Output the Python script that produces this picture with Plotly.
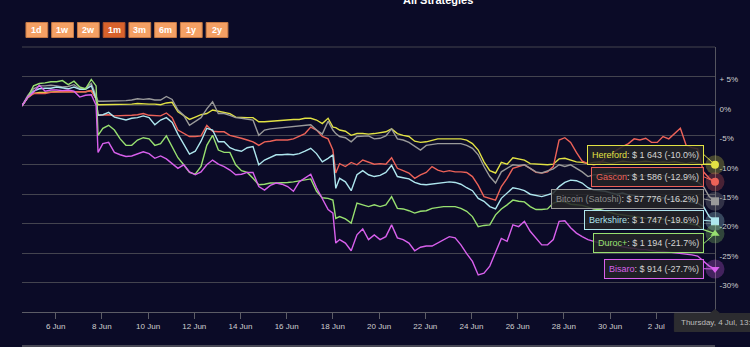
import plotly.graph_objects as go
import pandas as pd

# ---------------- data ----------------
start = pd.Timestamp('2024-06-04 13:00')
times = list(pd.date_range(start, periods=121, freq='6h'))
times[13:14] = [pd.Timestamp('2024-06-07 18:00'), pd.Timestamp('2024-06-07 20:00')]
times[55:56] = [pd.Timestamp('2024-06-18 00:00'), pd.Timestamp('2024-06-18 03:00')]

hereford = [0.0, 1.4, 2.1, 2.3, 2.3, 2.4, 2.4, 2.4, 2.4, 2.4, 2.4, 2.4, 2.6,
            1.2, 0.2,
            0.2, 0.3, 0.2, 0.2, 0.3, 0.3, 0.4, 0.3, 0.3, 0.3, 0.2, 0.5, 0.6, -1.0, -1.6, -2.3, -1.9,
            -1.5, -1.3, -0.7, -0.9, -1.1, -1.3, -1.9, -2.0, -2.0, -2.0, -2.7, -2.7, -2.6, -2.5, -2.4, -2.3, -2.3, -2.3, -2.1, -2.1, -2.4, -3.0, -2.1,
            -3.6, -3.7,
            -4.1, -4.3, -5.0, -4.7, -4.7, -4.8,
            -4.7, -4.6, -4.4, -3.9, -4.7, -5.0, -5.2, -6.0, -6.2, -6.1, -5.8, -5.6, -5.6, -5.6, -5.6, -5.6, -5.8, -6.4, -7.5, -9.5, -11.0, -11.4, -9.6, -9.9, -8.8, -9.0, -9.2, -9.8, -9.9, -10.0,
            -10.0, -9.9, -9.0, -8.9, -9.2, -9.5, -9.6, -9.8, -9.6, -9.5, -9.6, -9.8, -9.6, -9.4, -9.5, -9.6, -9.5, -9.4, -9.5, -9.6, -9.5, -9.6, -9.5, -9.6, -9.8, -9.6, -9.8, -9.9, -9.9, -10.0]

gascon = [0.0, 1.4, 2.1, 2.1, 2.1, 2.3, 2.4, 2.4, 2.4, 2.4, 2.5, 2.4, 2.6,
          1.2, -1.6,
          -1.6, -1.5, -1.7, -1.7, -1.7, -1.6, -1.5, -1.3, -1.6, -1.7, -1.7, -1.2, -2.0, -4.1, -4.7, -5.2, -5.2,
          -5.1, -3.3, -4.3, -4.4, -4.4, -5.0, -5.2, -5.5, -5.8, -6.1, -6.7, -6.1, -6.0, -5.8, -5.8, -5.8, -5.6, -5.2, -4.7, -3.6, -4.1, -5.2, -5.6,
          -7.5, -11.4,
          -9.8, -10.3, -9.6, -10.0, -9.2, -9.6,
          -9.9, -9.8, -9.9, -8.8, -10.6, -11.0, -11.4, -12.3, -11.7, -11.3, -10.3, -10.9, -11.2, -11.0, -11.2, -11.2, -11.3, -12.0, -13.5, -15.4, -15.7, -16.0, -13.7, -12.3, -10.6, -10.3, -10.0, -10.6, -11.3, -11.4,
          -11.2, -10.3, -5.8, -5.4, -6.2, -7.9, -9.4, -9.8, -10.0, -9.8, -8.9, -8.3, -7.5, -6.9, -6.4, -5.6, -5.8, -5.5, -6.2, -6.2, -5.2, -5.6, -4.7, -3.8, -6.7, -7.1, -7.3, -11.2, -12.3, -12.9]

bitcoin = [0.0, 1.8, 2.9, 3.4, 3.4, 3.5, 3.4, 3.2, 3.3, 3.6, 2.9, 3.0, 3.8,
           1.5, 0.8,
           0.8, 0.8, 0.9, 0.8, 0.9, 1.0, 1.2, 1.1, 1.2, 1.0, 1.0, 1.6, 1.1, -0.7, -1.6, -3.3, -2.6,
           -2.0, -0.5, 0.7, -1.3, -1.3, -1.6, -2.0, -2.1, -2.3, -2.4, -5.0, -4.1, -3.9, -3.8, -3.7, -3.6, -3.6, -3.4, -3.3, -3.2, -4.1, -4.8, -2.6,
           -4.1, -4.7,
           -5.2, -5.4, -6.1, -5.2, -5.1, -5.1,
           -5.6, -5.5, -5.1, -3.9, -5.6, -5.8, -6.2, -6.9, -7.5, -6.7, -6.5, -6.4, -6.4, -6.4, -6.4, -6.4, -6.7, -7.2, -8.3, -10.3, -12.0, -13.1, -11.2, -10.6, -10.0, -10.1, -10.0, -10.6, -11.2, -11.4,
           -11.0, -10.7, -10.0, -10.3, -10.0, -10.6, -11.2, -12.0, -11.7, -11.7, -11.6, -11.4, -11.7, -11.8, -11.7, -11.8, -12.0, -11.8, -11.7, -12.0, -11.8, -12.0, -12.2, -12.3, -12.2, -12.6, -12.9, -13.7, -15.4, -16.2]

berkshire = [0.0, 1.5, 2.5, 2.9, 3.0, 3.0, 3.2, 3.0, 2.9, 3.2, 2.8, 2.8, 3.4,
             1.2, -1.6,
             -1.5, -1.1, -1.9, -2.1, -2.4, -2.1, -2.0, -1.7, -2.0, -3.2, -2.4, -2.0, -2.8, -4.8, -6.4, -8.2, -7.7,
             -6.0, -3.8, -4.1, -6.1, -6.1, -7.1, -7.5, -7.7, -7.1, -6.9, -10.0, -9.2, -8.8, -8.3, -8.3, -8.2, -8.3, -8.1, -7.7, -7.2, -8.1, -9.5, -8.9,
             -8.3, -14.0,
             -12.3, -12.9, -14.4, -11.7, -11.0, -11.7,
             -12.0, -11.8, -11.3, -10.1, -12.0, -12.2, -12.4, -13.0, -13.3, -13.4, -13.3, -13.1, -13.0, -12.9, -13.0, -13.3, -13.9, -14.4, -15.7, -16.2, -17.1, -17.5, -15.7, -14.8, -13.9, -14.1, -14.4, -15.0, -15.2, -15.4,
             -15.1, -14.8, -13.7, -13.0, -12.6, -12.7, -13.1, -13.9, -14.3, -14.4, -14.5, -14.8, -15.0, -14.8, -15.1, -15.2, -15.4, -15.4, -15.6, -15.7, -15.6, -15.8, -16.0, -16.1, -16.2, -16.3, -16.5, -17.1, -18.8, -19.6]

duroc = [0.0, 1.5, 3.4, 3.8, 3.9, 4.1, 4.1, 4.3, 3.6, 4.2, 3.2, 2.9, 4.5,
         3.4, -5.0,
         -3.8, -3.3, -4.1, -5.6, -6.7, -6.7, -5.8, -5.4, -5.6, -6.7, -6.4, -5.1, -6.9, -8.8, -10.0, -11.3, -11.6,
         -10.3, -6.7, -5.0, -7.5, -7.9, -7.9, -10.0, -11.0, -11.3, -12.3, -13.4, -13.3, -13.1, -13.1, -13.1, -13.0, -12.9, -12.7, -12.6, -12.4, -14.5, -15.6, -15.7,
         -16.0, -19.1,
         -18.8, -19.2, -19.9, -16.5, -16.8, -17.1,
         -16.8, -17.1, -16.8, -15.4, -17.4, -17.5, -17.8, -18.2, -17.9, -17.8, -17.4, -17.2, -17.1, -17.1, -17.1, -17.4, -17.9, -18.8, -20.5, -20.3, -20.2, -18.5, -17.5, -16.8, -16.0, -16.2, -16.3, -17.1, -17.6, -17.6,
         -17.5, -16.5, -16.2, -16.3, -16.7, -16.8, -16.9, -17.2, -17.5, -17.6, -17.9, -18.2, -18.4, -18.5, -18.6, -18.8, -18.9, -19.1, -19.2, -19.3, -19.2, -19.5, -19.6, -19.7, -19.9, -20.1, -20.3, -21.0, -21.3, -21.7]

bisaro = [0.0, 1.5, 2.3, 3.5, 2.5, 2.7, 2.7, 2.6, 2.7, 2.5, 1.5, 1.8, 1.9,
          0.1, -7.9,
          -6.4, -6.2, -7.9, -8.3, -8.6, -8.5, -8.2, -7.8, -8.1, -8.9, -8.5, -9.0, -9.8, -10.6, -10.0, -11.2, -11.7,
          -11.2, -10.0, -9.2, -9.9, -10.3, -10.9, -11.7, -11.6, -11.3, -11.3, -13.7, -14.3, -13.5, -13.1, -13.3, -13.7, -14.5, -12.9, -12.2, -11.6, -13.9, -15.7, -17.6,
          -18.2, -23.3,
          -22.7, -23.3, -24.6, -21.9, -20.9, -22.7,
          -21.9, -22.7, -22.2, -20.2, -22.4, -22.7, -23.3, -24.6, -24.0, -23.8, -23.8, -23.3, -22.7, -22.2, -22.4, -23.6, -25.1, -26.4, -28.7, -28.4, -27.2, -24.7, -22.5, -23.0, -20.2, -20.5, -19.6, -21.3, -22.4, -23.6,
          -23.6, -22.7, -19.6, -19.5, -20.7, -21.6, -22.2, -22.7, -23.0, -23.3, -23.5, -23.6, -23.8, -24.0, -24.1, -24.2, -24.4, -24.4, -24.6, -24.7, -24.7, -24.8, -25.0, -25.0, -25.1, -25.3, -25.5, -26.4, -27.2, -27.7]

names = ['Hereford', 'Gascon', 'Bitcoin (Satoshi)', 'Berkshire', 'Duroc+', 'Bisaro']
series = [hereford, gascon, bitcoin, berkshire, duroc, bisaro]
end_values = ['$ 1 643', '$ 1 586', '$ 57 776', '$ 1 747', '$ 1 194', '$ 914']
colors = ['#e2e244', '#ec6258', '#9a9a9a', '#aee6ee', '#98e070', '#d860ec']
name_colors = ['#e2e244', '#ec6258', '#8c8c8c', '#aee6ee', '#98e070', '#d860ec']
symbols = ['circle', 'circle', 'square', 'square', 'triangle-up', 'triangle-down']
label_dy = [-10, -5, -2.3, -1, 9.6, -0.3]

range_buttons = ['1d', '1w', '2w', '1m', '3m', '6m', '1y', '2y']
selected_button = '1m'

y_ticks = [-35, -30, -25, -20, -15, -10, -5, 0, 5, 10]
y_ticktext = ['-35%', '-30%', '-25%', '-20%', '-15%', '-10%', '-5%', '0%', '+ 5%', '']
x_tickvals = pd.date_range('2024-06-06', '2024-07-04', freq='2D')
x_ticktext = [f'{d.day} {d.strftime("%b")}' for d in x_tickvals]

# ---------------- layout helpers ----------------
W, H = 750, 347
L, R, T, B = 22, 28, 47, 35
PW, PH = W - L - R, H - T - B
BG = '#0b0b27'
FONT = 'Liberation Sans, Arial, sans-serif'


def px(X):
    return (X - L) / PW


def py(Y):
    return (H - B - Y) / PH


fig = go.Figure()

for name, vals, col in zip(names, series, colors):
    fig.add_trace(go.Scatter(x=times, y=vals, mode='lines', name=name,
                             line=dict(color=col, width=1.4), hoverinfo='skip'))

# end markers with halo
for vals, col, sym in zip(series, colors, symbols):
    fig.add_trace(go.Scatter(x=[times[-1]], y=[vals[-1]], mode='markers', cliponaxis=False,
                             marker=dict(size=19, color=col, opacity=0.28, symbol='circle'),
                             hoverinfo='skip'))
    fig.add_trace(go.Scatter(x=[times[-1]], y=[vals[-1]], mode='markers', cliponaxis=False,
                             marker=dict(size=8, color=col, symbol=sym,
                                         line=dict(width=0)),
                             hoverinfo='skip'))

# split tooltips
for name, vals, ev, col, ncol, dy in zip(names, series, end_values, colors, name_colors, label_dy):
    txt = (f'<span style="color:{ncol}">{name}</span>'
           f'<span style="color:#d4d4d4">: {ev} ({vals[-1]:.1f}%)</span>')
    fig.add_annotation(x=times[-1], y=vals[-1], xref='x', yref='y', text=txt,
                       showarrow=True, arrowhead=0, arrowwidth=1, arrowcolor=col,
                       ax=-11, ay=dy, xanchor='right', yanchor='middle',
                       bgcolor='rgba(36,36,38,0.86)', bordercolor=col, borderwidth=1,
                       borderpad=4, font=dict(family=FONT, size=9, color='#d4d4d4'))

# top gridline (+10 %)
fig.add_shape(type='line', xref='paper', yref='paper', x0=0, x1=1, y0=1, y1=1,
              line=dict(color='#44444f', width=1), layer='below')

# navigator line at bottom
fig.add_shape(type='line', xref='paper', yref='paper', x0=0, x1=1, y0=py(346), y1=py(346),
              line=dict(color='#5e5e66', width=1.5))

# range selector buttons
for i, lab in enumerate(range_buttons):
    x0 = 26 + 26 * i
    sel = lab == selected_button
    fig.add_shape(type='rect', xref='paper', yref='paper',
                  x0=px(x0), x1=px(x0 + 22), y0=py(37.5), y1=py(22.5),
                  fillcolor='#d8622c' if sel else '#f4a064',
                  line=dict(color='#a9502a' if sel else '#c77a45', width=1), layer='above')
    fig.add_annotation(text=f'<b>{lab}</b>', xref='paper', yref='paper',
                       x=px(x0 + 11), y=py(30.0), showarrow=False,
                       xanchor='center', yanchor='middle',
                       font=dict(family=FONT, size=9, color='#ffffff'))

# title (partly cut off at top)
fig.add_annotation(text='<b>All Strategies</b>', xref='paper', yref='paper',
                   x=px(441.7), y=py(0.5), showarrow=False, xanchor='center', yanchor='middle',
                   font=dict(family=FONT, size=11, color='#ffffff'))

# date tooltip bottom right
fig.add_shape(type='path', xref='paper', yref='paper',
              path=(f'M {px(681)} {py(313.5)} L {px(717)} {py(313.5)} L {px(722)} {py(309.5)} '
                    f'L {px(727)} {py(313.5)} L {px(760)} {py(313.5)} L {px(760)} {py(331.5)} '
                    f'L {px(681)} {py(331.5)} Z'),
              fillcolor='#2c2c30', line=dict(color='#2c2c30', width=1), layer='above')
fig.add_annotation(text='Thursday, 4 Jul, 13:00', xref='paper', yref='paper',
                   x=px(685.5), y=py(322.5), xanchor='left', yanchor='middle', showarrow=False,
                   font=dict(family=FONT, size=8, color='#bdbdbd'))

fig.update_layout(
    width=W, height=H,
    margin=dict(l=L, r=R, t=T, b=B),
    paper_bgcolor=BG, plot_bgcolor=BG,
    showlegend=False, hovermode=False,
    font=dict(family=FONT, size=8, color='#cfcfcf'),
    xaxis=dict(type='date', range=[times[0], times[-1]],
               tickmode='array', tickvals=x_tickvals, ticktext=x_ticktext,
               showgrid=False, zeroline=False, layer='below traces',
               showline=True, linecolor='#5c5c66', linewidth=1,
               ticks='outside', ticklen=6, tickcolor='#5c5c66',
               tickfont=dict(family=FONT, size=8, color='#cfcfcf')),
    yaxis=dict(side='right', range=[-35, 10], tickmode='array',
               tickvals=y_ticks, ticktext=y_ticktext, layer='below traces',
               showgrid=True, gridcolor='#44444f', gridwidth=1, zeroline=False,
               showline=True, linecolor='#55555f', linewidth=1,
               ticks='', ticklabelshift=3, ticklabelstandoff=2,
               tickfont=dict(family=FONT, size=8, color='#cfcfcf')),
)

fig.write_html('out.html')
